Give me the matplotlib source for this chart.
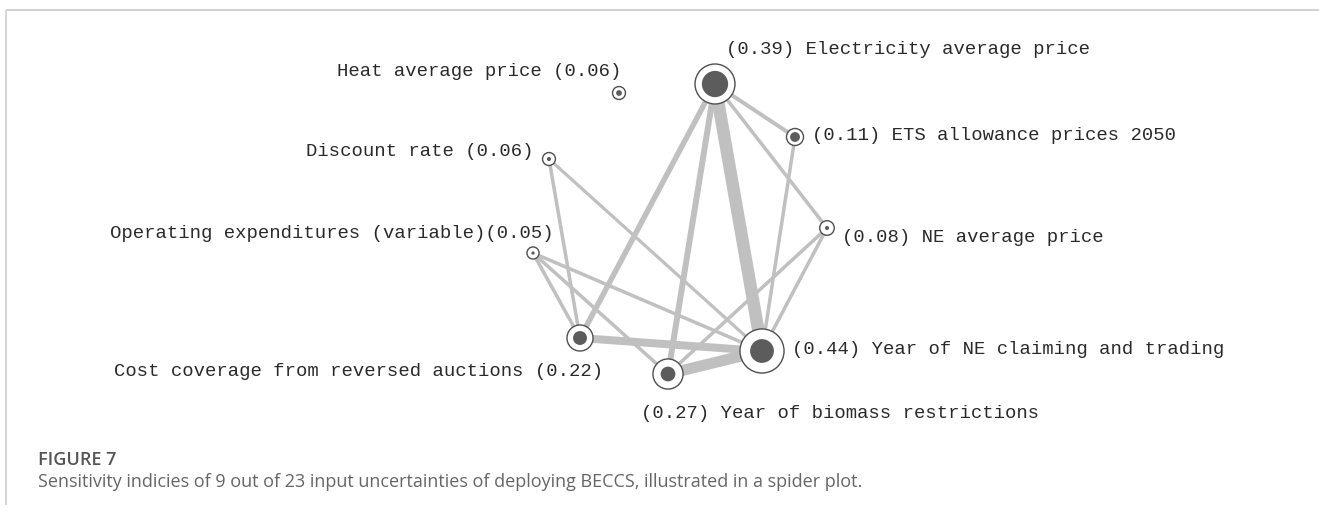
import matplotlib.pyplot as plt
from matplotlib.patches import Circle

# Noms des paramètres et indices de sensibilité
noms = ['Electricity average price', 'Heat average price', 'ETS allowance prices 2050',
        'Discount rate', 'NE average price', 'Operating expenditures (variable)',
        'Cost coverage from reversed auctions', 'Year of biomass restrictions',
        'Year of NE claiming and trading']
st = [0.39, 0.06, 0.11, 0.06, 0.08, 0.05, 0.22, 0.27, 0.44]      # indices totaux (anneau)
s1 = [0.32, 0.07, 0.12, 0.05, 0.05, 0.04, 0.17, 0.18, 0.29]      # indices de premier ordre (disque plein)

# Position des noeuds (repère en pixels de l'image)
noeud_x = [715, 619, 795, 549, 827, 533, 580, 668, 762]
noeud_y = [84, 93, 137, 159, 228, 253, 338, 374, 351]

# Liens d'interaction (indices de second ordre)
liens = [(0, 8), (7, 8), (6, 8), (0, 6), (0, 7), (0, 2), (0, 4), (2, 8), (4, 8),
         (4, 7), (3, 6), (3, 8), (5, 6), (5, 7), (5, 8)]
s2 = [0.125, 0.11, 0.08, 0.055, 0.06, 0.04, 0.035, 0.035, 0.035,
      0.035, 0.035, 0.032, 0.035, 0.035, 0.035]

# Placement des étiquettes : (x, y, alignement, libellé à gauche de la valeur ?)
etiquettes = [(726, 50, 'left', False), (621, 72, 'right', True), (812, 135, 'left', False),
              (534, 152, 'right', True), (842, 237, 'left', False), (554, 233, 'right', True),
              (603, 371, 'right', True), (641, 413, 'left', False), (792, 350, 'left', False)]

W, H = 1319, 513
px = 0.72  # 1 pixel en points à 100 dpi

fig = plt.figure(figsize=(W / 100, H / 100), dpi=100)
ax = fig.add_axes([0, 0, 1, 1])
ax.set_xlim(0, W)
ax.set_ylim(H, 0)
ax.axis('off')

# Cadre de la figure
ax.plot([6, W], [10, 10], color='#d2d2d2', lw=2 * px, solid_capstyle='butt')
ax.plot([6, 6], [10, 505], color='#c8c8c8', lw=1.5 * px, solid_capstyle='butt')

# Liens
for (i, j), v in zip(liens, s2):
    ax.plot([noeud_x[i], noeud_x[j]], [noeud_y[i], noeud_y[j]], color='#c0c0c0',
            lw=100 * v * px, solid_capstyle='butt', zorder=1)

# Noeuds
for k in range(len(noms)):
    r_ext = 4 + 41 * st[k]
    r_int = 41 * s1[k]
    ax.add_patch(Circle((noeud_x[k], noeud_y[k]), r_ext, facecolor='white',
                        edgecolor='#505050', lw=1.4 * px, zorder=3))
    ax.add_patch(Circle((noeud_x[k], noeud_y[k]), r_int, facecolor='#5c5c5c',
                        edgecolor='none', zorder=4))

# Etiquettes
for k, (lx, ly, ha, nom_avant) in enumerate(etiquettes):
    val = f'({st[k]:.2f})'
    if nom_avant:
        sep = '' if noms[k].endswith(')') else ' '
        txt = noms[k] + sep + val
    else:
        txt = val + ' ' + noms[k]
    ax.text(lx, ly, txt, ha=ha, va='center', family='Liberation Mono',
            fontsize=13.6, color='#2a2a2a', zorder=5)

# Légende de la figure
ax.text(38, 460, 'FIGURE 7', family='Open Sans', fontweight='semibold', fontsize=13,
        color='#555555', va='center', ha='left')
ax.text(38, 482, 'Sensitivity indicies of 9 out of 23 input uncertainties of deploying BECCS, '
        'illustrated in a spider plot.', family='Open Sans', fontsize=13,
        color='#666666', va='center', ha='left')

plt.savefig('out.png', dpi=100)
plt.close()
